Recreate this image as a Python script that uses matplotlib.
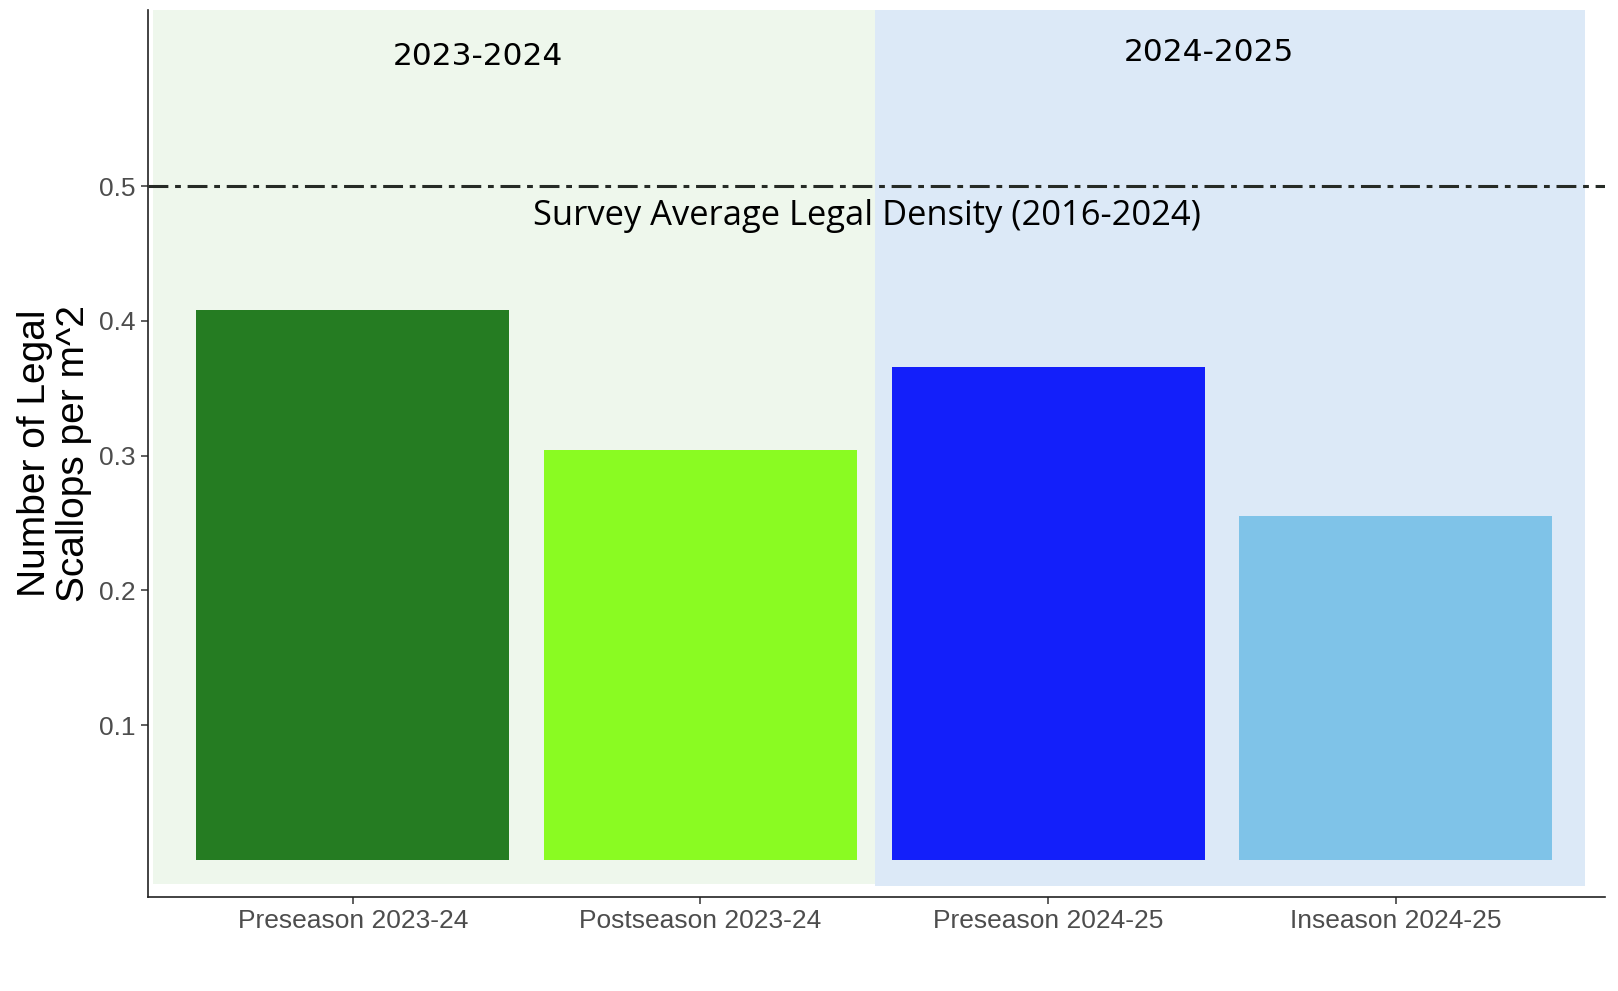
import matplotlib
matplotlib.use("Agg")
import matplotlib.pyplot as plt
from matplotlib.patches import Rectangle

# ---- data ----
categories = ["Preseason 2023-24", "Postseason 2023-24", "Preseason 2024-25", "Inseason 2024-25"]
density = [0.408, 0.304, 0.366, 0.255]
bar_colors = ["#257C22", "#8AFB22", "#131FFA", "#7FC3E8"]
survey_avg = 0.5
yticks = [0.1, 0.2, 0.3, 0.4, 0.5]
ytick_labels = ["0.1", "0.2", "0.3", "0.4", "0.5"]
season_labels = ["2023-2024", "2024-2025"]
avg_label = "Survey Average Legal Density (2016-2024)"
ylabel = "Number of Legal\nScallops per m^2"

W, H, DPI = 1618, 991, 100
fig = plt.figure(figsize=(W / DPI, H / DPI), dpi=DPI)
fig.patch.set_facecolor("white")

left, right = 147.6 / W, 1604.6 / W
bottom, top = 1 - 896.7 / H, 1 - 10.3 / H
ax = fig.add_axes([left, bottom, right - left, top - bottom])

x = list(range(1, len(categories) + 1))
ax.set_xlim(0.41, 4.6)
ax.set_ylim(-0.0272, 0.6305)

# background season panels
ymax_bg = 0.6305
ax.add_patch(Rectangle((0.425, -0.0178), 2.503 - 0.425, ymax_bg + 0.0178,
                       facecolor="#EEF7EC", edgecolor="none", zorder=0))
ax.add_patch(Rectangle((2.503, -0.0196), 4.545 - 2.503, ymax_bg + 0.0196,
                       facecolor="#DCE9F7", edgecolor="none", zorder=0))

ax.bar(x, density, width=0.9, color=bar_colors, zorder=2)

ax.axhline(survey_avg, color="#262b26", lw=2.2,
           linestyle=(0, (6.5, 2.2, 1.9, 2.2)), zorder=3)

ax.set_xticks(x)
ax.set_xticklabels(categories)
ax.set_yticks(yticks)
ax.set_yticklabels(ytick_labels)

for lab in ax.get_xticklabels() + ax.get_yticklabels():
    lab.set_fontfamily("Liberation Sans")
    lab.set_fontsize(19)
    lab.set_color("#4D4D4D")

ax.tick_params(axis="both", length=5, width=1.1, color="#333333", pad=3.5)

for s in ["top", "right"]:
    ax.spines[s].set_visible(False)
for s in ["left", "bottom"]:
    ax.spines[s].set_linewidth(1.2)
    ax.spines[s].set_color("#222222")
ax.set_facecolor("none")

# annotations
ax.text(0.2268, 0.9383, season_labels[0], transform=ax.transAxes,
        ha="center", va="baseline", fontsize=22.5, family="DejaVu Sans", color="black")
ax.text(0.7285, 0.9432, season_labels[1], transform=ax.transAxes,
        ha="center", va="baseline", fontsize=22.5, family="DejaVu Sans", color="black")
ax.text(0.4937, 0.7578, avg_label, transform=ax.transAxes,
        ha="center", va="baseline", fontsize=24.8, family="Open Sans", color="black",
        zorder=4)

fig.text(54.5 / W, 1 - 453.5 / H, ylabel, rotation=90, ha="center", va="center",
         multialignment="center", fontsize=28, family="Liberation Sans",
         color="black", linespacing=1.08)

fig.savefig("out.png", dpi=DPI, facecolor="white")
